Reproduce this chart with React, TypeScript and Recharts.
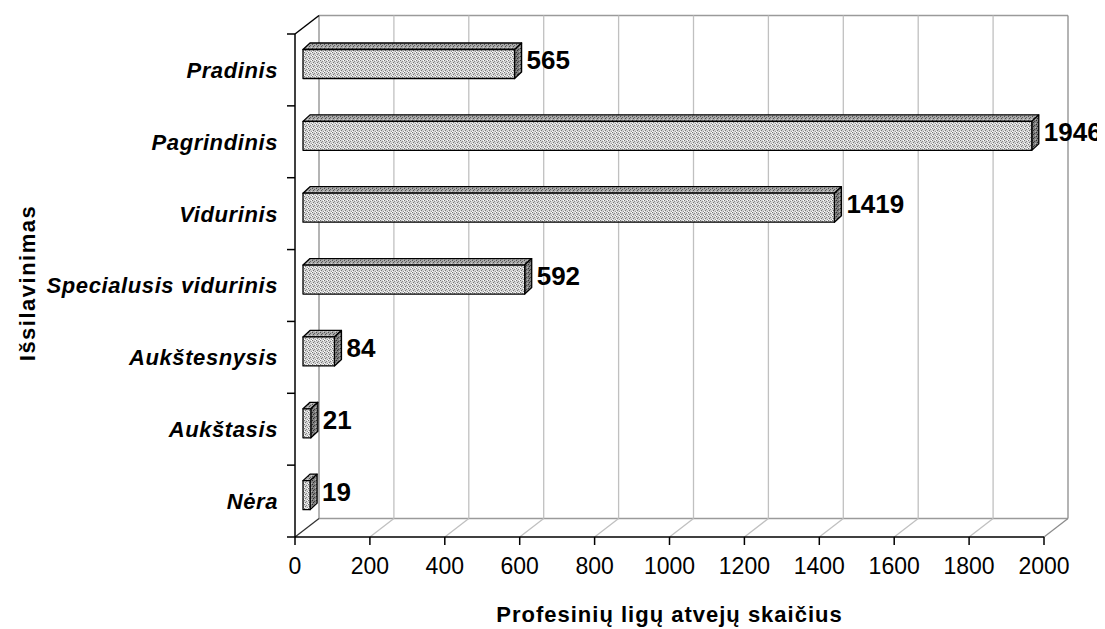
import React from 'react';
import { BarChart, Bar, XAxis, YAxis, CartesianGrid, LabelList } from 'recharts';

// Data
const categories = ['Pradinis', 'Pagrindinis', 'Vidurinis', 'Specialusis vidurinis', 'Aukštesnysis', 'Aukštasis', 'Nėra'];
const cases = [565, 1946, 1419, 592, 84, 21, 19];
const xTicks = [0, 200, 400, 600, 800, 1000, 1200, 1400, 1600, 1800, 2000];
const xTitle = 'Profesinių ligų atvejų skaičius';
const yTitle = 'Išsilavinimas';

const data = categories.map((name, i) => ({ name, value: cases[i] }));

const FONT = '"Liberation Sans", Arial, sans-serif';
const WIDTH = 1097;
const HEIGHT = 621;
const MARGIN = { top: 26, right: 61, bottom: 32, left: 0 };
const X_AXIS_H = 60;
const Y_AXIS_W = 287;

// 3D look: back wall offset and bar depth
const WX = 24;
const WY = 18.5;
const SX = 8;
const SY = 5.5;
const DX = 7;
const DY = 6.5;

const plotH = HEIGHT - MARGIN.top - MARGIN.bottom - X_AXIS_H;
const band = plotH / categories.length;

function VLine(props: any) {
  const { x1, y1, y2, index } = props;
  const edge = index === 0 || index === xTicks.length - 1;
  return (
    <g key={`v-${index}`}>
      <line x1={x1 + WX} y1={y1 - WY} x2={x1 + WX} y2={y2 - WY} stroke={edge ? '#8c8c8c' : '#c0c0c0'} strokeWidth={1.3} />
      <line x1={x1} y1={y2} x2={x1 + WX} y2={y2 - WY} stroke={index === 0 ? '#333' : index === xTicks.length - 1 ? '#8c8c8c' : '#c0c0c0'} strokeWidth={1.3} />
      {index === 0 && <line x1={x1} y1={y1} x2={x1 + WX} y2={y1 - WY} stroke="#000" strokeWidth={1.5} />}
    </g>
  );
}

function HLine(props: any) {
  const { x1, x2, y1, index } = props;
  return (
    <line key={`h-${index}`} x1={x1 + WX} y1={y1 - WY} x2={x2 + WX} y2={y1 - WY} stroke="#9a9a9a" strokeWidth={1.3} />
  );
}

function Box3D(props: any) {
  const { x, y, width, height, index } = props;
  const w = Math.max(width, 0);
  const fx = x + SX;
  const fy = y - SY;
  const h = height;
  return (
    <g key={`b-${index}`} stroke="#000" strokeWidth={1.3} strokeLinejoin="round">
      <polygon points={`${fx},${fy} ${fx + DX},${fy - DY} ${fx + w + DX},${fy - DY} ${fx + w},${fy}`} fill="url(#stipTop)" />
      <polygon points={`${fx + w},${fy} ${fx + w + DX},${fy - DY} ${fx + w + DX},${fy + h - DY} ${fx + w},${fy + h}`} fill="url(#stipSide)" />
      <rect x={fx} y={fy} width={w} height={h} fill="url(#stipFront)" />
    </g>
  );
}

function ValueLabel(props: any) {
  const { x, y, width, height, value } = props;
  const fx = x + SX + Math.max(width, 0) + DX + 5;
  const cy = y - SY + height / 2 - 4;
  return (
    <text x={fx} y={cy} dy="0.36em" fontFamily={FONT} fontSize={26} fontWeight="bold" fill="#000">
      {value}
    </text>
  );
}

function CatTick(props: any) {
  const { x, y, payload, index } = props;
  const last = index === categories.length - 1;
  return (
    <g>
      <line x1={x - 8} y1={y - band / 2} x2={x} y2={y - band / 2} stroke="#000" strokeWidth={1.5} />
      {last && <line x1={x - 8} y1={y + band / 2} x2={x} y2={y + band / 2} stroke="#000" strokeWidth={1.5} />}
      <text x={x - 17} y={y} dy="0.36em" textAnchor="end" fontFamily={FONT} fontSize={22} fontWeight="bold" fontStyle="italic" letterSpacing={0.6} fill="#000">
        {payload.value}
      </text>
    </g>
  );
}

function XTitle(props: any) {
  const vb = props.viewBox || {};
  const cx = vb.x !== undefined ? vb.x + vb.width / 2 : 661;
  return (
    <text x={cx} y={614} textAnchor="middle" fontFamily={FONT} fontSize={22} fontWeight="bold" letterSpacing={1} fill="#000">
      {xTitle}
    </text>
  );
}

function YTitle() {
  return (
    <text x={27} y={275} textAnchor="middle" transform="rotate(-90, 27, 275)" fontFamily={FONT} fontSize={22} fontWeight="bold" letterSpacing={1.5} fill="#000">
      {yTitle}
    </text>
  );
}

function Patterns() {
  return (
    <defs>
      <pattern id="stipFront" width="4" height="4" patternUnits="userSpaceOnUse">
        <rect width="4" height="4" fill="#d6d6d6" />
        <rect x="0" y="0" width="1" height="1" fill="#777" />
        <rect x="2" y="1" width="1" height="1" fill="#888" />
        <rect x="1" y="2" width="1" height="1" fill="#777" />
        <rect x="3" y="3" width="1" height="1" fill="#959595" />
        <rect x="3" y="0" width="1" height="1" fill="#ffffff" />
        <rect x="0" y="3" width="1" height="1" fill="#ffffff" />
      </pattern>
      <pattern id="stipTop" width="4" height="4" patternUnits="userSpaceOnUse">
        <rect width="4" height="4" fill="#aaaaaa" />
        <rect x="0" y="0" width="1" height="1" fill="#505050" />
        <rect x="2" y="1" width="1" height="1" fill="#606060" />
        <rect x="1" y="2" width="1" height="1" fill="#505050" />
        <rect x="3" y="3" width="1" height="1" fill="#d0d0d0" />
      </pattern>
      <pattern id="stipSide" width="4" height="4" patternUnits="userSpaceOnUse">
        <rect width="4" height="4" fill="#808080" />
        <rect x="0" y="0" width="1" height="1" fill="#2e2e2e" />
        <rect x="2" y="1" width="1" height="1" fill="#404040" />
        <rect x="1" y="2" width="1" height="1" fill="#2e2e2e" />
        <rect x="3" y="3" width="1" height="1" fill="#b4b4b4" />
      </pattern>
    </defs>
  );
}

export default function App() {
  return (
    <div style={{ width: WIDTH, height: HEIGHT, background: '#fff' }}>
      <BarChart width={WIDTH} height={HEIGHT} data={data} layout="vertical" margin={MARGIN}>
        <Patterns />
        <CartesianGrid
          vertical={VLine}
          horizontal={HLine}
          horizontalCoordinatesGenerator={(args: any) => [args.offset.top, args.offset.top + args.offset.height]}
        />
        <XAxis
          type="number"
          domain={[0, 2000]}
          ticks={xTicks}
          interval={0}
          height={X_AXIS_H}
          axisLine={{ stroke: '#000', strokeWidth: 1.5 }}
          tickLine={{ stroke: '#000', strokeWidth: 1.5 }}
          tickSize={8}
          tickMargin={13}
          tick={{ fill: '#000', fontSize: 23, fontFamily: FONT }}
          label={<XTitle />}
        />
        <YAxis
          type="category"
          dataKey="name"
          width={Y_AXIS_W}
          interval={0}
          axisLine={{ stroke: '#000', strokeWidth: 1.5 }}
          tickLine={false}
          tickSize={0}
          tickMargin={0}
          tick={<CatTick />}
          label={<YTitle />}
        />
        <Bar dataKey="value" barSize={29} shape={<Box3D />} isAnimationActive={false}>
          <LabelList dataKey="value" content={<ValueLabel />} />
        </Bar>
      </BarChart>
    </div>
  );
}
